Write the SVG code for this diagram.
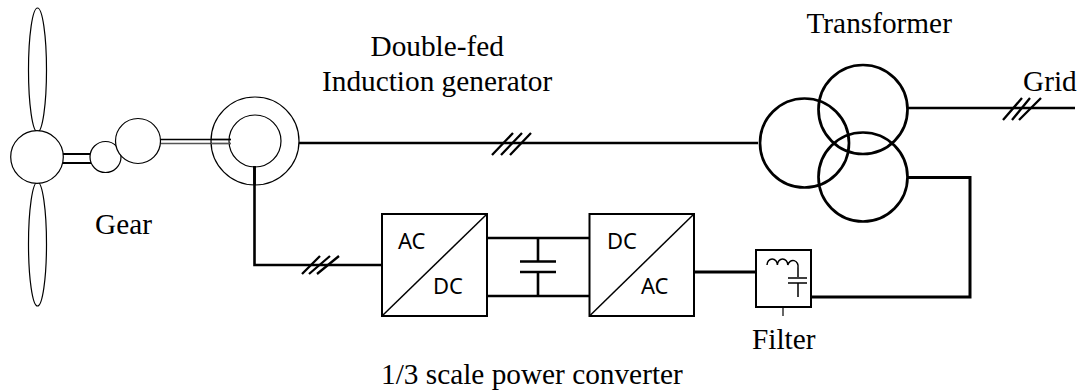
<svg xmlns="http://www.w3.org/2000/svg" width="1077" height="390" viewBox="0 0 1077 390">
<style>
.t{font-family:"Liberation Serif","Times New Roman",serif;font-size:29.300px;fill:#000}
.s{font-family:"Noto Sans",Arial,sans-serif;font-size:22px;fill:#000}
.thin{fill:none;stroke:#000;stroke-width:1.200}
.w{fill:#fff;stroke:#000;stroke-width:1.200}
.m{fill:none;stroke:#000;stroke-width:2}
.b{fill:none;stroke:#000;stroke-width:2.600}
.h{fill:none;stroke:#000;stroke-width:2.300}
.c{fill:none;stroke:#000;stroke-width:2.700}
.box{fill:#fff;stroke:#000;stroke-width:2}
.f{fill:none;stroke:#000;stroke-width:1.500}
</style>
<g id="connectors">
<path class="m" d="M63 154H91M63 163H91"/>
<path d="M160 139.500H231" fill="none" stroke="#000" stroke-width="1.300"/>
<path d="M160 143.500H231" fill="none" stroke="#555" stroke-width="1.300"/>
<path class="b" d="M299 143H758"/>
<path class="b" d="M254.500 166V265H382"/>
<path class="h" d="M492 155L513 133M501 155L522 133M510 155L531 133"/>
<path class="h" d="M302 274L320 256M309 274L330 256M317 274L339 256"/>
<path class="b" d="M907 108H1075"/>
<path class="h" d="M1003 120L1022 98M1012 120L1030 98M1019 120L1041 98"/>
<path class="b" d="M487 238H590M487 296H590"/>
<path class="b" d="M538 238V261M538 272V296"/>
<path class="b" d="M520 261.500H556M520 272H556"/>
<path fill="none" stroke="#000" stroke-width="3.200" d="M694 272H757"/>
<path fill="none" stroke="#000" stroke-width="3" d="M908 177.500H970V297H811"/>
</g>
<g id="rotor">
<ellipse class="thin" cx="37.500" cy="70" rx="9" ry="62"/>
<ellipse class="thin" cx="37.500" cy="244" rx="9" ry="62"/>
<circle class="w" cx="37" cy="157" r="26.300"/>
</g>
<g id="gear">
<circle class="w" cx="105.500" cy="157" r="15.500"/>
<circle class="w" cx="138" cy="141" r="22.500"/>
<text class="t" x="95" y="234">Gear</text>
</g>
<g id="generator">
<circle class="thin" cx="255" cy="141" r="44"/>
<circle class="thin" cx="255" cy="141" r="26"/>
<path d="M211 139.500H231" fill="none" stroke="#000" stroke-width="1.300"/>
<path d="M211 143.500H231" fill="none" stroke="#555" stroke-width="1.300"/>
<path class="b" d="M254.500 166V185"/>
<text class="t" x="370.500" y="56">Double-fed</text>
<text class="t" x="322" y="91">Induction generator</text>
</g>
<g id="transformer">
<circle class="c" cx="804.500" cy="143" r="44.500"/>
<circle class="c" cx="863" cy="109.500" r="44.500"/>
<circle class="c" cx="863" cy="177" r="44.500"/>
<text class="t" x="806.500" y="33">Transformer</text>
</g>
<g id="grid"><text class="t" x="1023" y="90.500">Grid</text></g>
<g id="rectifier">
<rect class="box" x="382" y="214" width="105" height="102"/>
<path class="f" d="M382 316L487 214"/>
<text class="s" x="398" y="249">AC</text>
<text class="s" x="433" y="294">DC</text>
</g>
<g id="inverter">
<rect class="box" x="589.500" y="214" width="104.500" height="102"/>
<path class="f" d="M589.500 316L694 214"/>
<text class="s" x="607" y="249">DC</text>
<text class="s" x="641" y="294">AC</text>
<text class="t" x="381" y="383.500">1/3 scale power converter</text>
</g>
<g id="filter">
<rect class="box" x="756" y="250" width="55" height="57"/>
<path class="f" d="M767 265a5.200 6 0 0 1 10.400 0a5.200 6 0 0 1 10.400 0a5.200 6 0 0 1 10.200 3V277"/>
<path class="f" d="M788 278H807M788 283H807M798 283V297"/>
<path class="m" d="M811 272V297" stroke-width="2.500"/>
<path class="thin" d="M783 307V316"/>
<text class="t" x="752" y="349">Filter</text>
</g>
</svg>
